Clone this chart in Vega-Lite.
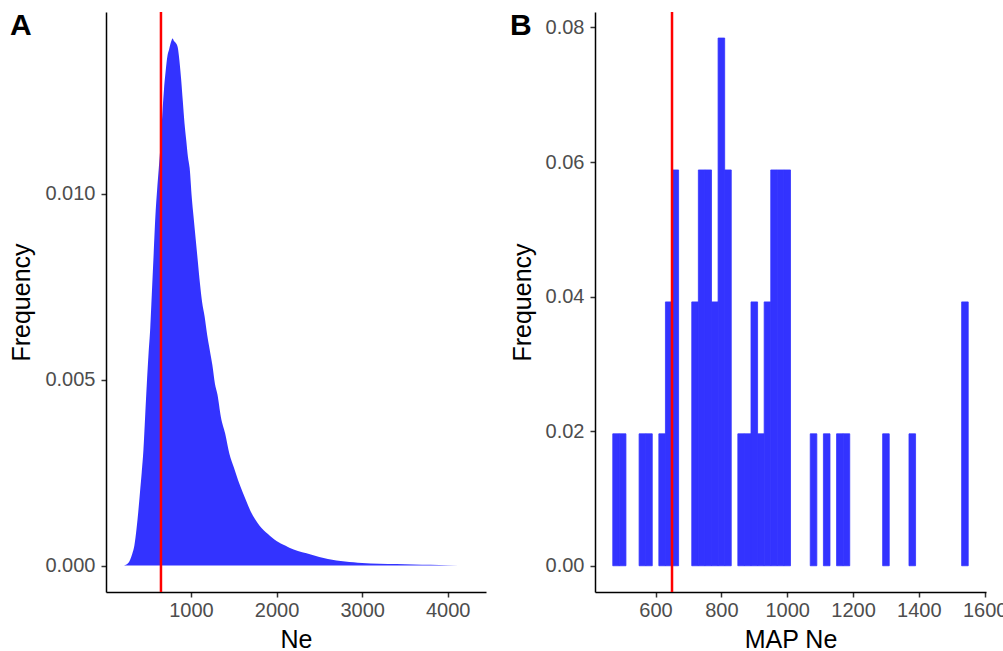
{
  "$schema": "https://vega.github.io/schema/vega-lite/v6.json",
  "padding": {"left": 9, "top": 10, "right": 0, "bottom": 0},
  "spacing": 24,
  "config": {
    "font": "Liberation Sans",
    "view": {"stroke": null},
    "axis": {
      "grid": false,
      "domainColor": "#000000",
      "domainWidth": 1.5,
      "tickColor": "#333333",
      "tickWidth": 1.5,
      "tickSize": 5,
      "labelColor": "#4d4d4d",
      "labelFontSize": 20,
      "labelFont": "Liberation Sans",
      "titleFont": "Liberation Sans",
      "titleFontSize": 25,
      "titleFontWeight": "normal",
      "titleColor": "#000000",
      "labelPadding": 3
    },
    "axisX": {"titlePadding": 7},
    "axisY": {"titlePadding": 10, "labelPadding": 6},
    "title": {"anchor": "start", "frame": "bounds", "fontSize": 30, "fontWeight": "bold", "baseline": "top", "offset": -30, "color": "#000000", "font": "Liberation Sans"}
  },
  "datasets": {
    "posterior": [
      {"Ne": 215, "freq": 0},
      {"Ne": 240, "freq": 0.00002},
      {"Ne": 265, "freq": 0.00006},
      {"Ne": 290, "freq": 0.00016},
      {"Ne": 315, "freq": 0.00032},
      {"Ne": 340, "freq": 0.00055},
      {"Ne": 365, "freq": 0.00100},
      {"Ne": 385, "freq": 0.00145},
      {"Ne": 405, "freq": 0.00197},
      {"Ne": 425, "freq": 0.0025},
      {"Ne": 445, "freq": 0.0031},
      {"Ne": 465, "freq": 0.0040},
      {"Ne": 485, "freq": 0.0049},
      {"Ne": 505, "freq": 0.0057},
      {"Ne": 525, "freq": 0.0064},
      {"Ne": 545, "freq": 0.0074},
      {"Ne": 565, "freq": 0.0084},
      {"Ne": 585, "freq": 0.0094},
      {"Ne": 605, "freq": 0.0101},
      {"Ne": 625, "freq": 0.0107},
      {"Ne": 645, "freq": 0.0113},
      {"Ne": 665, "freq": 0.0121},
      {"Ne": 685, "freq": 0.0128},
      {"Ne": 705, "freq": 0.0133},
      {"Ne": 725, "freq": 0.0137},
      {"Ne": 745, "freq": 0.01388},
      {"Ne": 770, "freq": 0.0141},
      {"Ne": 785, "freq": 0.01418},
      {"Ne": 805, "freq": 0.0141},
      {"Ne": 825, "freq": 0.01405},
      {"Ne": 845, "freq": 0.01395},
      {"Ne": 865, "freq": 0.0136},
      {"Ne": 885, "freq": 0.0131},
      {"Ne": 905, "freq": 0.0125},
      {"Ne": 925, "freq": 0.0119},
      {"Ne": 945, "freq": 0.01145},
      {"Ne": 965, "freq": 0.0110},
      {"Ne": 985, "freq": 0.0107},
      {"Ne": 1010, "freq": 0.0099},
      {"Ne": 1030, "freq": 0.0094},
      {"Ne": 1055, "freq": 0.0088},
      {"Ne": 1080, "freq": 0.0082},
      {"Ne": 1105, "freq": 0.0076},
      {"Ne": 1130, "freq": 0.0071},
      {"Ne": 1160, "freq": 0.0067},
      {"Ne": 1190, "freq": 0.0062},
      {"Ne": 1220, "freq": 0.0058},
      {"Ne": 1250, "freq": 0.0054},
      {"Ne": 1280, "freq": 0.0049},
      {"Ne": 1310, "freq": 0.0046},
      {"Ne": 1350, "freq": 0.0040},
      {"Ne": 1400, "freq": 0.00355},
      {"Ne": 1450, "freq": 0.0030},
      {"Ne": 1500, "freq": 0.00265},
      {"Ne": 1550, "freq": 0.0023},
      {"Ne": 1600, "freq": 0.0020},
      {"Ne": 1650, "freq": 0.00172},
      {"Ne": 1700, "freq": 0.00145},
      {"Ne": 1750, "freq": 0.00125},
      {"Ne": 1800, "freq": 0.00108},
      {"Ne": 1850, "freq": 0.00095},
      {"Ne": 1900, "freq": 0.00085},
      {"Ne": 1950, "freq": 0.00075},
      {"Ne": 2000, "freq": 0.00066},
      {"Ne": 2100, "freq": 0.00054},
      {"Ne": 2200, "freq": 0.00043},
      {"Ne": 2300, "freq": 0.00036},
      {"Ne": 2400, "freq": 0.00030},
      {"Ne": 2500, "freq": 0.00023},
      {"Ne": 2600, "freq": 0.00018},
      {"Ne": 2700, "freq": 0.00014},
      {"Ne": 2800, "freq": 0.00011},
      {"Ne": 2900, "freq": 0.00009},
      {"Ne": 3000, "freq": 0.00007},
      {"Ne": 3200, "freq": 0.00005},
      {"Ne": 3400, "freq": 0.00004},
      {"Ne": 3600, "freq": 0.00003},
      {"Ne": 3800, "freq": 0.00002},
      {"Ne": 4000, "freq": 0.00001},
      {"Ne": 4250, "freq": 0}
    ],
    "mapne": [
      {"start": 470, "end": 490, "freq": 0.019608},
      {"start": 490, "end": 510, "freq": 0.019608},
      {"start": 550, "end": 570, "freq": 0.019608},
      {"start": 570, "end": 590, "freq": 0.019608},
      {"start": 610, "end": 630, "freq": 0.019608},
      {"start": 630, "end": 650, "freq": 0.039216},
      {"start": 650, "end": 670, "freq": 0.058824},
      {"start": 710, "end": 730, "freq": 0.039216},
      {"start": 730, "end": 750, "freq": 0.058824},
      {"start": 750, "end": 770, "freq": 0.058824},
      {"start": 770, "end": 790, "freq": 0.039216},
      {"start": 790, "end": 810, "freq": 0.078431},
      {"start": 810, "end": 830, "freq": 0.058824},
      {"start": 850, "end": 870, "freq": 0.019608},
      {"start": 870, "end": 890, "freq": 0.019608},
      {"start": 890, "end": 910, "freq": 0.039216},
      {"start": 910, "end": 930, "freq": 0.019608},
      {"start": 930, "end": 950, "freq": 0.039216},
      {"start": 950, "end": 970, "freq": 0.058824},
      {"start": 970, "end": 990, "freq": 0.058824},
      {"start": 990, "end": 1010, "freq": 0.058824},
      {"start": 1070, "end": 1090, "freq": 0.019608},
      {"start": 1110, "end": 1130, "freq": 0.019608},
      {"start": 1150, "end": 1170, "freq": 0.019608},
      {"start": 1170, "end": 1190, "freq": 0.019608},
      {"start": 1290, "end": 1310, "freq": 0.019608},
      {"start": 1370, "end": 1390, "freq": 0.019608},
      {"start": 1530, "end": 1550, "freq": 0.039216}
    ],
    "truth": [{"Ne": 650}]
  },
  "hconcat": [
    {
      "width": 380,
      "height": 580,
      "title": {"text": "A"},
      "layer": [
        {
          "data": {"name": "posterior"},
          "mark": {"type": "area", "color": "#3333ff", "interpolate": "monotone"},
          "encoding": {
            "x": {"field": "Ne", "type": "quantitative",
                  "scale": {"domain": [8, 4447], "nice": false, "zero": false},
                  "axis": {"values": [1000, 2000, 3000, 4000], "format": "d", "title": "Ne"}},
            "y": {"field": "freq", "type": "quantitative",
                  "scale": {"domain": [-0.00071, 0.01489], "nice": false, "zero": false},
                  "axis": {"values": [0, 0.005, 0.01], "format": ".3f", "title": "Frequency"}},
            "y2": {"datum": 0}
          }
        },
        {
          "data": {"name": "truth"},
          "mark": {"type": "rule", "color": "#ff0000", "strokeWidth": 2.5},
          "encoding": {"x": {"field": "Ne", "type": "quantitative"}}
        }
      ]
    },
    {
      "width": 391,
      "height": 580,
      "title": {"text": "B"},
      "layer": [
        {
          "data": {"name": "mapne"},
          "mark": {"type": "bar", "color": "#3333ff", "stroke": "#3333ff", "strokeWidth": 0.8},
          "encoding": {
            "x": {"field": "start", "type": "quantitative",
                  "scale": {"domain": [416, 1604], "nice": false, "zero": false},
                  "axis": {"values": [600, 800, 1000, 1200, 1400, 1600], "format": "d", "title": "MAP Ne"}},
            "x2": {"field": "end"},
            "y": {"field": "freq", "type": "quantitative",
                  "scale": {"domain": [-0.0039, 0.0823], "nice": false, "zero": false},
                  "axis": {"values": [0, 0.02, 0.04, 0.06, 0.08], "format": ".2f", "title": "Frequency"}},
            "y2": {"datum": 0}
          }
        },
        {
          "data": {"name": "truth"},
          "mark": {"type": "rule", "color": "#ff0000", "strokeWidth": 2.5},
          "encoding": {"x": {"field": "Ne", "type": "quantitative"}}
        }
      ]
    }
  ]
}
